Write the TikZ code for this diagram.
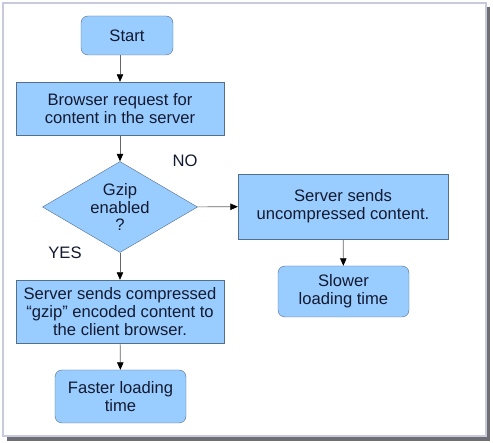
\documentclass[tikz,border=0pt]{standalone}
\usepackage{fontspec}
\setmainfont{Liberation Sans}
\usepackage{tikz}
\usetikzlibrary{arrows.meta,shapes.geometric,positioning,calc}
\definecolor{boxfill}{RGB}{153,204,255}
\definecolor{boxline}{RGB}{84,110,140}
\definecolor{boxtext}{RGB}{20,26,48}
\definecolor{frameline}{RGB}{200,200,222}
\definecolor{frameshadow}{RGB}{110,110,116}

\begin{document}
\begin{tikzpicture}[x=1pt, y=-1pt,
  procbox/.style={draw=boxline, fill=boxfill, text=boxtext, align=center,
    inner sep=0pt, font=\fontsize{16.6}{17.8}\selectfont},
  termbox/.style={procbox, rounded corners=7pt},
  decision/.style={procbox, diamond, aspect=1.7, minimum width=155pt,
    minimum height=91pt},
  arr/.style={-{Triangle[length=7.5pt, width=6.5pt, black]}, draw=gray!80!black,
    line width=0.6pt},
  lbl/.style={font=\fontsize{16.6}{17.8}\selectfont, text=boxtext}
]
  % Frame with shadow
  \useasboundingbox (0,0) rectangle (493,443);
  \fill[frameshadow] (7,7) rectangle (490,441);
  \filldraw[fill=white, draw=frameline, line width=1.2pt] (3,3) rectangle (486,436);

  % Boxes
  \node[termbox, minimum width=92pt, minimum height=39pt] (start) at (127,35.5)
    {Start};
  \node[procbox, minimum width=208pt, minimum height=53pt] (request) at (120,108.5)
    {Browser request for\\content in the server};
  \node[decision] (gzip) at (120,207) {Gzip\\enabled\\?};
  \node[procbox, minimum width=210pt, minimum height=65pt] (plain) at (343,206.5)
    {Server sends\\uncompressed content.};
  \node[termbox, minimum width=131pt, minimum height=51pt] (slower) at (343.5,291.5)
    {Slower\\loading time};
  \node[procbox, minimum width=208pt, minimum height=63pt] (packed) at (120,311.5)
    {Server sends compressed\\``gzip'' encoded content to\\the client browser.};
  \node[termbox, minimum width=131pt, minimum height=53pt] (faster) at (120.5,396.5)
    {Faster loading\\time};

  % Labels
  \node[lbl] (no) at (185,161) {NO};
  \node[lbl] (yes) at (65,253) {YES};

  % Arrows
  \draw[arr] (start.south -| request.north) -- (request.north);
  \draw[arr] (request) -- (gzip);
  \draw[arr] (gzip) -- (plain);
  \draw[arr] (plain) -- (slower);
  \draw[arr] (gzip) -- (packed);
  \draw[arr] (packed) -- (faster);
\end{tikzpicture}
\end{document}
